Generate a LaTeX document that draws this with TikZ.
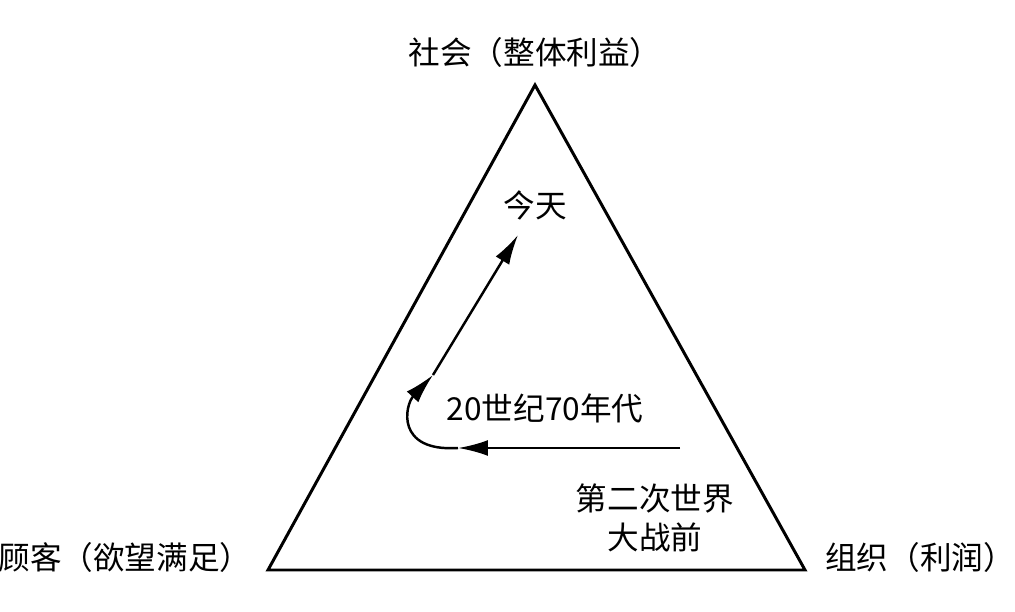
\documentclass[tikz,border=0pt]{standalone}
\usepackage{fontspec}
\newfontfamily\cjk{Noto Sans CJK SC}
\usetikzlibrary{arrows.meta}
\begin{document}
\begin{tikzpicture}[
    x=0.02cm, y=-0.02cm,
    lbl/.style={font=\cjk\fontsize{18}{22}\selectfont, inner sep=0pt, align=center},
    edge/.style={line width=1.7pt, line join=miter},
    arr/.style={-{Latex[length=17pt, width=9pt]}, line width=1.4pt}
]
    \useasboundingbox (0,0) rectangle (1015,612);

    % Triangle corners
    \coordinate (top) at (535,85);
    \coordinate (left) at (268,570);
    \coordinate (right) at (805,570);
    \draw[edge] (top) -- (left) -- (right) -- cycle;

    % Corner labels
    \node[lbl] (society) at (535,52) {社会（整体利益）};
    \node[lbl] (customer) at (125,557) {顾客（欲望满足）};
    \node[lbl] (organization) at (920,557) {组织（利润）};

    % Stage labels
    \node[lbl] (today) at (535,205) {今天};
    \node[lbl] (seventies) at (545,408) {20世纪70年代};
    \node[lbl] (prewar) at (655,518) {第二次世界\\大战前};

    % Path of development
    \coordinate (p0) at (680,448);
    \coordinate (p1) at (458,448);
    \coordinate (p2) at (433,375);
    \coordinate (p3) at (518,235);
    \draw[arr] (p0) -- (p1);
    \draw[arr] (p1) .. controls (395,452) and (405,405) .. (p2);
    \draw[arr] (p2) -- (p3);
\end{tikzpicture}
\end{document}
